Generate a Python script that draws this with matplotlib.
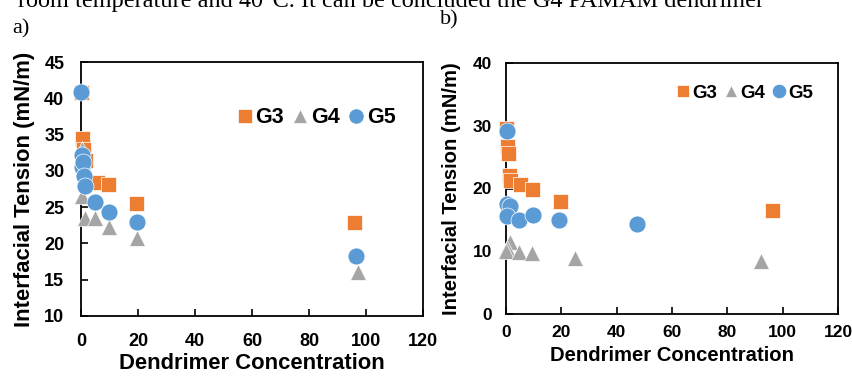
import matplotlib
matplotlib.use("Agg")
import matplotlib.pyplot as plt

# Panel a)
a_g3_x = [0, 0.3, 0.8, 1.5, 5.5, 9.6, 19.3, 95.9]
a_g3_y = [40.9, 34.5, 33.0, 31.5, 28.5, 28.2, 25.6, 23.0]
a_g4_x = [0.3, 0.5, 1.5, 5.0, 9.7, 19.5, 97.3]
a_g4_y = [33.0, 26.5, 23.5, 23.5, 22.3, 20.7, 16.1]
a_g5_x = [0, 0.5, 0.2, 0.8, 1.2, 1.5, 4.8, 9.7, 19.5, 96.5]
a_g5_y = [40.8, 32.2, 30.6, 31.2, 29.3, 27.9, 25.7, 24.3, 23.0, 18.3]

# Panel b)
b_g3_x = [0, 0.5, 0.8, 1.0, 1.5, 5.0, 9.5, 19.5, 96.0]
b_g3_y = [29.7, 26.7, 25.7, 22.2, 21.4, 20.7, 19.9, 18.0, 16.5]
b_g4_x = [1.5, 0.5, 0.1, 4.8, 9.3, 25.0, 92.0]
b_g4_y = [11.5, 10.5, 10.0, 9.9, 9.7, 9.0, 8.4]
b_g5_x = [0.3, 0.5, 1.5, 0.5, 4.8, 9.6, 19.3, 47.5]
b_g5_y = [29.2, 17.6, 17.2, 15.6, 15.0, 15.8, 15.0, 14.4]

xticks = [0, 20, 40, 60, 80, 100, 120]
a_yticks = [10, 15, 20, 25, 30, 35, 40, 45]
b_yticks = [0, 10, 20, 30, 40]

C3, C4, C5 = "#ED7D31", "#A5A5A5", "#5B9BD5"

plt.rcParams['font.family'] = ['Liberation Sans', 'DejaVu Sans']
plt.rcParams['font.weight'] = 'bold'

fig = plt.figure(figsize=(8.53, 3.76), dpi=100)
W, H = 853, 376

def make_ax(l, t, r, b):
    return fig.add_axes([l / W, 1 - b / H, (r - l) / W, (b - t) / H])

axA = make_ax(81, 62, 423, 316)
axB = make_ax(506, 63, 838, 314)

def style(ax, yticks, ylim, tsize, lsize, xpad, ypad, xl_y, yl_x):
    ax.set_xlim(0, 120)
    ax.set_ylim(*ylim)
    ax.set_xticks(xticks)
    ax.set_yticks(yticks)
    ax.tick_params(direction='in', length=5, width=1.2, labelsize=tsize, colors='black')
    ax.tick_params(axis='x', pad=xpad)
    ax.tick_params(axis='y', pad=ypad)
    for lab in ax.get_xticklabels() + ax.get_yticklabels():
        lab.set_fontweight('bold')
    for s in ax.spines.values():
        s.set_linewidth(1.3)
        s.set_color('black')
    ax.set_xlabel("Dendrimer Concentration", fontsize=lsize, fontweight='bold')
    ax.set_ylabel("Interfacial Tension (mN/m)", fontsize=lsize, fontweight='bold')
    ax.xaxis.set_label_coords(0.5, xl_y)
    ax.yaxis.set_label_coords(yl_x, 0.5)

def plot(ax, d):
    (x3, y3), (x4, y4), (x5, y5) = d
    ax.plot(x3, y3, 's', color=C3, ms=10.8, mec='white', mew=0.5, label='G3', clip_on=False, zorder=3)
    ax.plot(x4, y4, '^', color=C4, ms=11, mec='white', mew=0.5, label='G4', clip_on=False, zorder=3)
    ax.plot(x5, y5, 'o', color=C5, ms=12.2, mec='white', mew=0.5, label='G5', clip_on=False, zorder=4)

plot(axA, [(a_g3_x, a_g3_y), (a_g4_x, a_g4_y), (a_g5_x, a_g5_y)])
plot(axB, [(b_g3_x, b_g3_y), (b_g4_x, b_g4_y), (b_g5_x, b_g5_y)])
style(axA, a_yticks, (10, 45), 13, 15.8, 12, 12, -0.146, -0.134)
style(axB, b_yticks, (0, 40), 12.5, 14.6, 8, 10, -0.127, -0.136)

for ax, anchor, fs, msc in [(axA, (0.46, 0.78), 15.5, 0.9), (axB, (0.515, 0.88), 13.5, 0.85)]:
    ax.legend(loc='center left', bbox_to_anchor=anchor, ncol=3, frameon=False,
              borderpad=0, borderaxespad=0,
              handlelength=0.6, handletextpad=0.2, columnspacing=0.45,
              prop={'weight': 'bold', 'size': fs}, markerscale=msc)

fig.text(12 / W, 1 - 29 / H, "a)", fontsize=16, family='Liberation Serif', fontweight='normal',
         va='center', ha='left')
fig.text(440 / W, 1 - 20 / H, "b)", fontsize=16, family='Liberation Serif', fontweight='normal',
         va='center', ha='left')
fig.text(18 / W, 1 - 7 / H, "room temperature and 40\u00b0C. It can be concluded the G4 PAMAM dendrimer",
         fontsize=17.5, family='Liberation Serif', fontweight='normal', va='baseline', ha='left')

fig.savefig("out.png", dpi=100)
